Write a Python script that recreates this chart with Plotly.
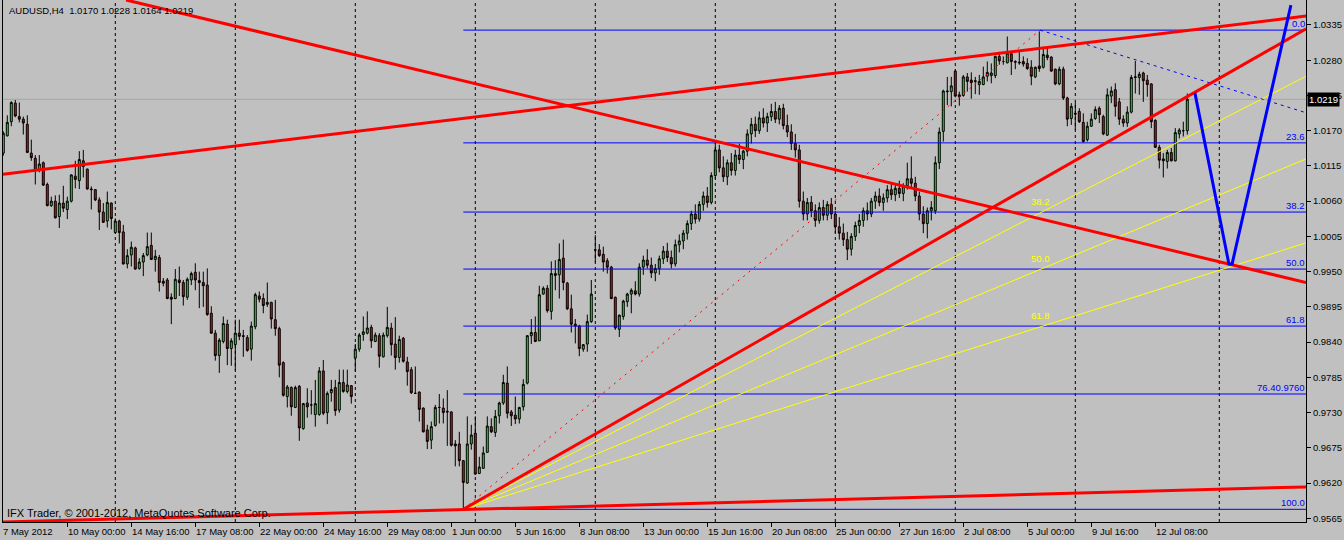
import plotly.graph_objects as go

# ---------------- candle data (AUDUSD H4), bar index 0 = 7 May 2012 ----------------
opens = [
 1.0135,1.0162,1.0184,1.0213,1.0192,1.0188,1.0180,1.0135,1.0127,1.0109,
 1.0120,1.0086,1.0053,1.0060,1.0036,1.0057,1.0047,1.0060,1.0099,1.0092,
 1.0123,1.0110,1.0079,1.0078,1.0062,1.0043,1.0029,1.0057,1.0011,1.0029,
 1.0012,0.9962,0.9976,0.9987,0.9955,0.9965,0.9976,0.9991,0.9969,0.9972,
 0.9935,0.9937,0.9910,0.9908,0.9937,0.9933,0.9910,0.9937,0.9949,0.9936,
 0.9933,0.9929,0.9885,0.9854,0.9819,0.9841,0.9868,0.9830,0.9836,0.9854,
 0.9850,0.9847,0.9829,0.9864,0.9912,0.9908,0.9899,0.9902,0.9875,0.9861,
 0.9808,0.9755,0.9769,0.9738,0.9771,0.9705,0.9745,0.9742,0.9727,0.9727,
 0.9795,0.9730,0.9761,0.9769,0.9734,0.9777,0.9763,0.9772,0.9815,0.9829,
 0.9852,0.9854,0.9863,0.9841,0.9850,0.9817,0.9850,0.9862,0.9837,0.9816,
 0.9846,0.9809,0.9797,0.9760,0.9762,0.9737,0.9703,0.9687,0.9710,0.9738,
 0.9737,0.9732,0.9731,0.9681,0.9681,0.9655,0.9620,0.9681,0.9698,0.9635,
 0.9643,0.9668,0.9708,0.9699,0.9725,0.9745,0.9776,0.9731,0.9726,0.9720,
 0.9739,0.9776,0.9850,0.9855,0.9842,0.9915,0.9924,0.9888,0.9947,0.9945,
 0.9971,0.9932,0.9892,0.9868,0.9865,0.9829,0.9837,0.9872,0.9984,0.9984,
 0.9977,0.9967,0.9957,0.9910,0.9860,0.9880,0.9903,0.9915,0.9920,0.9915,
 0.9957,0.9968,0.9960,0.9948,0.9955,0.9970,0.9982,0.9972,0.9962,0.9992,
 0.9998,1.0010,1.0025,1.0040,1.0032,1.0055,1.0068,1.0058,1.0100,1.0140,
 1.0112,1.0098,1.0120,1.0108,1.0132,1.0125,1.0138,1.0165,1.0180,1.0170,
 1.0190,1.0182,1.0192,1.0200,1.0188,1.0205,1.0178,1.0168,1.0150,1.0140,
 1.0060,1.0040,1.0058,1.0045,1.0030,1.0050,1.0038,1.0055,1.0040,1.0020,
 1.0010,1.0000,0.9985,1.0005,1.0022,1.0030,1.0045,1.0040,1.0060,1.0068,
 1.0058,1.0065,1.0078,1.0070,1.0080,1.0072,1.0084,1.0095,1.0088,1.0068,
 1.0040,1.0025,1.0045,1.0045,1.0120,1.0169,1.0232,1.0231,1.0263,1.0226,
 1.0225,1.0254,1.0249,1.0248,1.0242,1.0242,1.0255,1.0256,1.0256,1.0286,
 1.0278,1.0276,1.0290,1.0278,1.0277,1.0278,1.0275,1.0269,1.0254,1.0271,
 1.0269,1.0288,1.0285,1.0266,1.0243,1.0266,1.0221,1.0189,1.0197,1.0200,
 1.0183,1.0156,1.0177,1.0189,1.0205,1.0192,1.0163,1.0224,1.0234,1.0215,
 1.0188,1.0182,1.0199,1.0253,1.0253,1.0260,1.0249,1.0243,1.0186,1.0144,
 1.0126,1.0122,1.0136,1.0123,1.0165,1.0170,1.0170,
]
highs = [
 1.0169,1.0194,1.0216,1.0218,1.0214,1.0192,1.0194,1.0156,1.0132,1.0132,
 1.0122,1.0089,1.0067,1.0069,1.0070,1.0084,1.0067,1.0102,1.0123,1.0138,
 1.0140,1.0111,1.0083,1.0079,1.0066,1.0057,1.0075,1.0058,1.0033,1.0031,
 1.0023,0.9985,0.9997,0.9989,0.9971,0.9979,1.0011,1.0011,0.9984,0.9976,
 0.9940,0.9940,0.9916,0.9954,0.9958,0.9937,0.9941,0.9950,0.9963,0.9950,
 0.9950,0.9955,0.9896,0.9859,0.9846,0.9880,0.9875,0.9846,0.9875,0.9875,
 0.9859,0.9851,0.9872,0.9917,0.9919,0.9916,0.9933,0.9903,0.9906,0.9864,
 0.9810,0.9773,0.9771,0.9772,0.9773,0.9745,0.9768,0.9765,0.9781,0.9801,
 0.9812,0.9763,0.9781,0.9781,0.9797,0.9797,0.9797,0.9773,0.9837,0.9854,
 0.9880,0.9888,0.9867,0.9855,0.9854,0.9855,0.9895,0.9870,0.9879,0.9850,
 0.9848,0.9817,0.9801,0.9802,0.9763,0.9738,0.9711,0.9716,0.9742,0.9759,
 0.9752,0.9765,0.9732,0.9687,0.9700,0.9656,0.9724,0.9711,0.9724,0.9661,
 0.9677,0.9724,0.9721,0.9734,0.9747,0.9789,0.9802,0.9734,0.9755,0.9739,
 0.9782,0.9851,0.9876,0.9880,0.9928,0.9927,0.9929,0.9966,0.9968,0.9994,
 1.0000,0.9934,0.9914,0.9876,0.9867,0.9837,0.9883,0.9937,1.0007,0.9993,
 0.9989,0.9971,0.9959,0.9911,0.9883,0.9906,0.9917,0.9924,0.9935,0.9963,
 0.9975,0.9985,0.9972,0.9962,0.9975,0.9990,0.9995,0.9983,1.0000,1.0008,
 1.0015,1.0030,1.0045,1.0055,1.0060,1.0075,1.0082,1.0105,1.0155,1.0148,
 1.0130,1.0125,1.0135,1.0140,1.0150,1.0140,1.0172,1.0190,1.0192,1.0200,
 1.0205,1.0198,1.0212,1.0215,1.0210,1.0212,1.0195,1.0180,1.0165,1.0148,
 1.0075,1.0065,1.0068,1.0055,1.0058,1.0062,1.0060,1.0065,1.0045,1.0035,
 1.0025,1.0012,1.0010,1.0028,1.0040,1.0050,1.0058,1.0065,1.0075,1.0080,
 1.0072,1.0085,1.0090,1.0085,1.0092,1.0088,1.0120,1.0130,1.0098,1.0075,
 1.0052,1.0050,1.0060,1.0130,1.0175,1.0234,1.0254,1.0254,1.0265,1.0231,
 1.0257,1.0260,1.0261,1.0254,1.0257,1.0270,1.0278,1.0275,1.0287,1.0293,
 1.0286,1.0317,1.0293,1.0280,1.0293,1.0286,1.0283,1.0280,1.0270,1.0325,
 1.0301,1.0301,1.0286,1.0267,1.0270,1.0270,1.0223,1.0213,1.0215,1.0205,
 1.0197,1.0184,1.0197,1.0208,1.0208,1.0195,1.0236,1.0239,1.0244,1.0221,
 1.0194,1.0208,1.0257,1.0279,1.0262,1.0262,1.0257,1.0244,1.0188,1.0148,
 1.0135,1.0140,1.0143,1.0174,1.0174,1.0184,1.0228,
]
lows = [
 1.0131,1.0161,1.0177,1.0191,1.0183,1.0164,1.0135,1.0123,1.0086,1.0105,
 1.0084,1.0052,1.0051,1.0033,1.0018,1.0043,1.0032,1.0058,1.0080,1.0079,
 1.0097,1.0078,1.0047,1.0060,1.0015,1.0026,1.0019,1.0016,1.0010,0.9994,
 0.9961,0.9955,0.9958,0.9953,0.9953,0.9943,0.9974,0.9968,0.9950,0.9919,
 0.9927,0.9907,0.9868,0.9907,0.9912,0.9897,0.9906,0.9929,0.9921,0.9893,
 0.9895,0.9881,0.9853,0.9811,0.9792,0.9838,0.9804,0.9803,0.9796,0.9843,
 0.9817,0.9825,0.9811,0.9860,0.9902,0.9885,0.9895,0.9861,0.9850,0.9785,
 0.9755,0.9738,0.9725,0.9737,0.9686,0.9703,0.9722,0.9727,0.9708,0.9725,
 0.9726,0.9712,0.9747,0.9725,0.9730,0.9761,0.9760,0.9744,0.9794,0.9825,
 0.9842,0.9852,0.9831,0.9840,0.9800,0.9816,0.9847,0.9819,0.9797,0.9808,
 0.9808,0.9772,0.9759,0.9759,0.9716,0.9699,0.9673,0.9673,0.9708,0.9713,
 0.9713,0.9678,0.9677,0.9646,0.9646,0.9579,0.9619,0.9672,0.9633,0.9634,
 0.9642,0.9667,0.9698,0.9692,0.9713,0.9742,0.9721,0.9709,0.9712,0.9713,
 0.9733,0.9774,0.9837,0.9840,0.9842,0.9914,0.9886,0.9875,0.9921,0.9908,
 0.9921,0.9890,0.9855,0.9838,0.9818,0.9825,0.9825,0.9870,0.9965,0.9973,
 0.9950,0.9947,0.9907,0.9859,0.9848,0.9875,0.9895,0.9885,0.9913,0.9911,
 0.9945,0.9955,0.9940,0.9935,0.9945,0.9962,0.9965,0.9955,0.9958,0.9980,
 0.9985,1.0000,1.0015,1.0025,1.0028,1.0045,1.0050,1.0055,1.0095,1.0105,
 1.0090,1.0085,1.0100,1.0100,1.0118,1.0110,1.0130,1.0150,1.0160,1.0165,
 1.0175,1.0168,1.0185,1.0182,1.0180,1.0172,1.0160,1.0140,1.0128,1.0050,
 1.0030,1.0030,1.0035,1.0020,1.0025,1.0030,1.0030,1.0032,1.0010,1.0000,
 0.9990,0.9968,0.9975,0.9998,1.0010,1.0020,1.0030,1.0035,1.0048,1.0052,
 1.0045,1.0058,1.0062,1.0060,1.0065,1.0060,1.0078,1.0080,1.0060,1.0030,
 1.0010,1.0002,1.0030,1.0040,1.0110,1.0153,1.0210,1.0208,1.0222,1.0209,
 1.0223,1.0231,1.0220,1.0227,1.0226,1.0241,1.0247,1.0244,1.0252,1.0273,
 1.0273,1.0275,1.0257,1.0266,1.0273,1.0270,1.0265,1.0241,1.0252,1.0262,
 1.0267,1.0280,1.0262,1.0241,1.0241,1.0218,1.0177,1.0179,1.0171,1.0182,
 1.0151,1.0153,1.0176,1.0187,1.0182,1.0163,1.0162,1.0213,1.0192,1.0179,
 1.0176,1.0176,1.0197,1.0228,1.0226,1.0215,1.0223,1.0174,1.0143,1.0111,
 1.0097,1.0111,1.0122,1.0122,1.0158,1.0161,1.0164,
]
closes = [
 1.0166,1.0183,1.0214,1.0193,1.0188,1.0182,1.0136,1.0128,1.0108,1.0118,
 1.0085,1.0053,1.0060,1.0034,1.0057,1.0049,1.0060,1.0101,1.0094,1.0125,
 1.0114,1.0079,1.0078,1.0062,1.0043,1.0027,1.0058,1.0033,1.0029,1.0011,
 0.9962,0.9975,0.9988,0.9954,0.9965,0.9975,0.9989,0.9969,0.9974,0.9933,
 0.9932,0.9908,0.9907,0.9938,0.9933,0.9911,0.9938,0.9947,0.9937,0.9933,
 0.9928,0.9883,0.9854,0.9819,0.9843,0.9869,0.9830,0.9842,0.9854,0.9849,
 0.9849,0.9827,0.9865,0.9914,0.9907,0.9897,0.9902,0.9876,0.9861,0.9804,
 0.9757,0.9770,0.9739,0.9769,0.9706,0.9744,0.9739,0.9742,0.9744,0.9795,
 0.9729,0.9760,0.9766,0.9733,0.9777,0.9763,0.9773,0.9755,0.9829,0.9851,
 0.9856,0.9862,0.9842,0.9851,0.9818,0.9851,0.9863,0.9836,0.9816,0.9844,
 0.9810,0.9794,0.9761,0.9760,0.9735,0.9700,0.9685,0.9708,0.9738,0.9738,
 0.9730,0.9731,0.9679,0.9678,0.9655,0.9621,0.9681,0.9695,0.9634,0.9645,
 0.9667,0.9709,0.9700,0.9724,0.9745,0.9777,0.9729,0.9725,0.9720,0.9738,
 0.9774,0.9850,0.9855,0.9841,0.9914,0.9924,0.9889,0.9947,0.9944,0.9969,
 0.9933,0.9892,0.9868,0.9865,0.9830,0.9836,0.9872,0.9915,0.9984,0.9975,
 0.9965,0.9957,0.9908,0.9862,0.9882,0.9904,0.9915,0.9921,0.9915,0.9957,
 0.9968,0.9960,0.9948,0.9955,0.9970,0.9982,0.9972,0.9962,0.9992,0.9998,
 1.0010,1.0025,1.0040,1.0032,1.0055,1.0068,1.0058,1.0100,1.0140,1.0112,
 1.0098,1.0120,1.0108,1.0132,1.0125,1.0138,1.0165,1.0180,1.0170,1.0190,
 1.0182,1.0192,1.0200,1.0188,1.0205,1.0178,1.0168,1.0150,1.0140,1.0060,
 1.0040,1.0058,1.0045,1.0030,1.0050,1.0038,1.0055,1.0040,1.0020,1.0010,
 1.0000,0.9985,1.0005,1.0022,1.0030,1.0045,1.0040,1.0060,1.0068,1.0058,
 1.0065,1.0078,1.0070,1.0080,1.0072,1.0084,1.0095,1.0088,1.0068,1.0040,
 1.0025,1.0045,1.0050,1.0120,1.0168,1.0232,1.0231,1.0240,1.0224,1.0223,
 1.0254,1.0247,1.0245,1.0247,1.0247,1.0254,1.0261,1.0260,1.0286,1.0279,
 1.0278,1.0291,1.0278,1.0277,1.0276,1.0274,1.0267,1.0255,1.0269,1.0267,
 1.0289,1.0284,1.0263,1.0243,1.0266,1.0221,1.0188,1.0208,1.0196,1.0184,
 1.0153,1.0177,1.0188,1.0203,1.0195,1.0165,1.0226,1.0232,1.0208,1.0188,
 1.0182,1.0199,1.0253,1.0254,1.0258,1.0248,1.0242,1.0184,1.0144,1.0124,
 1.0123,1.0136,1.0123,1.0167,1.0171,1.0170,1.0219,
]

# ---------------- axis labels ----------------
price_ticks = [0.9565,0.9620,0.9675,0.9730,0.9785,0.9840,0.9895,0.9950,
               1.0005,1.0060,1.0115,1.0170,1.0225,1.0280,1.0335]
time_tick_bars = [16,32,48,64,80,96,112,128,144,160,176,192,208,224,240,256,272,288]
time_tick_text = ["10 May 00:00","14 May 16:00","17 May 08:00","22 May 00:00","24 May 16:00",
                  "29 May 08:00","1 Jun 00:00","5 Jun 16:00","8 Jun 08:00","13 Jun 00:00",
                  "15 Jun 16:00","20 Jun 08:00","25 Jun 00:00","27 Jun 16:00","2 Jul 08:00",
                  "5 Jul 00:00","9 Jul 16:00","12 Jul 08:00"]
first_label = "7 May 2012"
grid_bars = [28,58,88,118,148,178,208,238,268,304]
last_price = 1.0219
header = "AUDUSD,H4  1.0170 1.0228 1.0164 1.0219"
footer = "IFX Trader, © 2001-2012, MetaQuotes Software Corp."

# ---------------- drawn objects (bar index, price) ----------------
red_down_x, red_down_y = [30.7, 325.7], [1.0374, 0.9933]
red_up_x, red_up_y = [-0.1, 325.7], [1.0102, 1.0349]
red_low_x, red_low_y = [115, 325.7], [0.9579, 1.0329]
red_base_x, red_base_y = [-0.8, 325.7], [0.9559, 0.9614]
fib_diag_x, fib_diag_y = [115, 259.2], [0.9579, 1.0327]
blue_dot_x, blue_dot_y = [259.2, 325.7], [1.0327, 1.0198]
fan_end_x = 325.7
fan_end_y = [1.0255, 1.0126, 0.9995]
fan_labels = ["38.2", "50.0", "61.8"]
fan_label_y = [1.0060, 0.9970, 0.9882]
fib_start = 115
fib_prices = [1.0327, 1.0151, 1.0043, 0.9954, 0.9865, 0.9759, 0.9579]
fib_labels = ["0.0", "23.6", "38.2", "50.0", "61.8", "76.40.9760", "100.0"]
vee_x, vee_y = [297.9, 306.4, 307.2, 321.9], [1.0229, 0.9962, 0.9962, 1.0366]

X_RANGE = [-0.075, 325.675]
Y_RANGE = [0.95592, 1.0374]
FONT = "Liberation Sans, Arial, sans-serif"
FS = 9.5

fig = go.Figure()

n = len(opens)
fig.add_trace(go.Candlestick(
    x=list(range(n)), open=opens, high=highs, low=lows, close=closes,
    increasing=dict(line=dict(color="black", width=1), fillcolor="#00FF00"),
    decreasing=dict(line=dict(color="black", width=1), fillcolor="#FF0000"),
    whiskerwidth=0, showlegend=False, hoverinfo="skip"))

def line(x, y, color, width, dash="solid"):
    fig.add_trace(go.Scatter(x=x, y=y, mode="lines", showlegend=False, hoverinfo="skip",
                             line=dict(color=color, width=width, dash=dash)))

# fib horizontal levels
for p in fib_prices:
    line([fib_start, X_RANGE[1]], [p, p], "#0000FF", 1)

# fan lines
for fy in fan_end_y:
    line([fib_start, fan_end_x], [fib_prices[-1], fy], "#FFFF00", 1)

line(fib_diag_x, fib_diag_y, "#FF0000", 1, "2px,5px")
line(blue_dot_x, blue_dot_y, "#0000FF", 1, "3px,4px")
line(red_down_x, red_down_y, "#FF0000", 3)
line(red_up_x, red_up_y, "#FF0000", 3)
line(red_low_x, red_low_y, "#FF0000", 3)
line(red_base_x, red_base_y, "#FF0000", 3)
line(vee_x, vee_y, "#0000FF", 3)

# grid
for g in grid_bars:
    fig.add_shape(type="line", x0=g, x1=g, y0=0, y1=1, xref="x", yref="paper",
                  line=dict(color="black", width=1, dash="3px,3px"), layer="below")
fig.add_shape(type="line", x0=0, x1=1, xref="paper", y0=last_price, y1=last_price, yref="y",
              line=dict(color="#A4A4A4", width=1), layer="below")

ann = []
for p, t in zip(fib_prices, fib_labels):
    ann.append(dict(x=1, xref="paper", y=p, yref="y", text=t, showarrow=False,
                    xanchor="right", yanchor="bottom", xshift=1, yshift=-1,
                    font=dict(family=FONT, size=FS, color="#0000FF")))
for p, t in zip(fan_label_y, fan_labels):
    ann.append(dict(x=259.2, xref="x", y=p, yref="y", text=t, showarrow=False,
                    xanchor="center", yanchor="middle",
                    font=dict(family=FONT, size=FS, color="#FFFF00")))
for b, t in zip(time_tick_bars, time_tick_text):
    ann.append(dict(x=b, xref="x", y=0, yref="paper", text=t, showarrow=False,
                    xanchor="left", yanchor="top", yshift=-2, xshift=-1,
                    font=dict(family=FONT, size=FS, color="black")))
ann.append(dict(x=0, xref="x", y=0, yref="paper", text=first_label, showarrow=False,
                xanchor="left", yanchor="top", yshift=-2, xshift=-2,
                font=dict(family=FONT, size=FS, color="black")))
ann.append(dict(x=0, xref="paper", y=1, yref="paper", text=header, showarrow=False,
                xanchor="left", yanchor="top", xshift=4, yshift=-3,
                font=dict(family=FONT, size=FS, color="black")))
ann.append(dict(x=0, xref="paper", y=0, yref="paper", text=footer, showarrow=False,
                xanchor="left", yanchor="bottom", xshift=2, yshift=1,
                font=dict(family=FONT, size=11, color="black")))
ann.append(dict(x=1, xref="paper", y=last_price, yref="y", text="%.4f" % last_price,
                showarrow=False, xanchor="left", yanchor="middle", xshift=1,
                bgcolor="black", borderpad=1,
                font=dict(family=FONT, size=FS, color="white")))

fig.update_layout(
    width=1344, height=540,
    margin=dict(l=3, r=38, t=0, b=18),
    paper_bgcolor="#C0C0C0", plot_bgcolor="#C0C0C0",
    annotations=ann, showlegend=False,
    xaxis=dict(range=X_RANGE, rangeslider=dict(visible=False), showgrid=False, zeroline=False,
               tickmode="array", tickvals=time_tick_bars, ticktext=[""] * len(time_tick_bars),
               ticks="outside", ticklen=4, tickcolor="black", showline=True, linecolor="black",
               linewidth=1, fixedrange=True),
    yaxis=dict(range=Y_RANGE, side="right", showgrid=False, zeroline=False,
               tickmode="array", tickvals=price_ticks, ticktext=["%.4f" % v for v in price_ticks],
               ticks="outside", ticklen=4, tickcolor="black", showline=True, mirror=True,
               linecolor="black", linewidth=1,
               tickfont=dict(family=FONT, size=FS, color="black"), fixedrange=True),
)

fig.write_html("out.html", config={"displayModeBar": False},
               post_script="document.body.style.margin='0';document.body.style.background='#C0C0C0';")
